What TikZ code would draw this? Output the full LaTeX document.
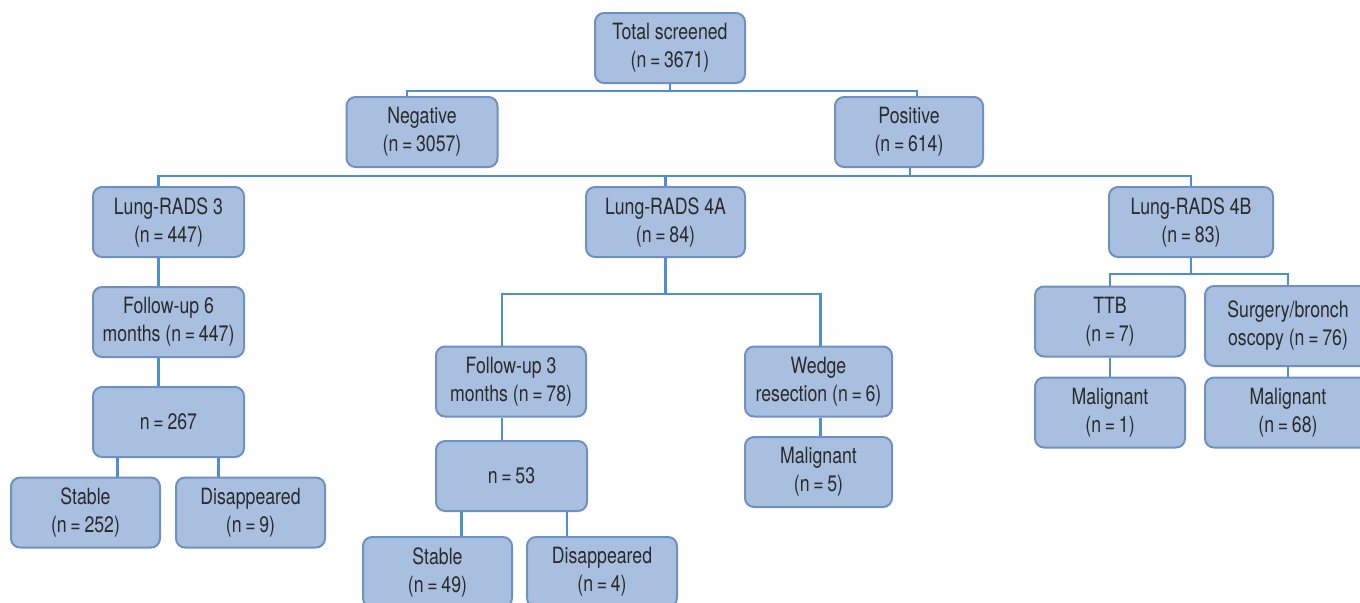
\documentclass[tikz,border=0pt]{standalone}
\usepackage{fontspec}
\setmainfont{TeX Gyre Heros}[FakeStretch=0.79]

\definecolor{boxfill}{HTML}{A9BFE0}
\definecolor{boxline}{HTML}{6E91C1}
\definecolor{linkblue}{HTML}{4D8FD2}
\definecolor{boxtext}{HTML}{2A2A2A}

\tikzset{
  box/.style={draw=boxline, line width=1pt, fill=boxfill, rounded corners=4.5pt,
    align=center, text=boxtext, inner xsep=2pt, inner ysep=1pt,
    minimum height=35pt, font=\fontsize{11.2}{14}\selectfont},
  link/.style={draw=linkblue, line width=1.2pt}
}

\begin{document}
\begin{tikzpicture}[x=0.5pt, y=-0.5pt]

\useasboundingbox (0,0) rectangle (1360,602);

\node[box, minimum width=75pt] (total) at (670,48) {Total screened\\(n\,=\,3671)};
\node[box, minimum width=75.5pt] (neg) at (422,132) {Negative\\(n\,=\,3057)};
\node[box, minimum width=74pt] (pos) at (909,132) {Positive\\(n\,=\,614)};

\node[box, minimum width=75.5pt] (lr3) at (168.5,222) {Lung-RADS 3\\(n\,=\,447)};
\node[box, minimum width=79.5pt] (lr4a) at (665.5,222) {Lung-RADS 4A\\(n\,=\,84)};
\node[box, minimum width=82pt] (lr4b) at (1191,222) {Lung-RADS 4B\\(n\,=\,83)};

\node[box, minimum width=75.5pt] (fu6) at (168.5,322) {Follow-up 6\\months (n\,=\,447)};
\node[box, minimum width=75.5pt] (n267) at (168.5,422) {n\,=\,267};
\node[box, minimum width=74.5pt] (stab1) at (85.5,512.5) {Stable\\(n\,=\,252)};
\node[box, minimum width=74.5pt] (dis1) at (250.5,512.5) {Disappeared\\(n\,=\,9)};

\node[box, minimum width=75pt] (fu3) at (511,381.5) {Follow-up 3\\months (n\,=\,78)};
\node[box, minimum width=75.5pt] (n53) at (511.5,476) {n\,=\,53};
\node[box, minimum width=74.5pt] (stab2) at (437.5,572) {Stable\\(n\,=\,49)};
\node[box, minimum width=75pt] (dis2) at (602,572) {Disappeared\\(n\,=\,4)};

\node[box, minimum width=73.5pt] (wedge) at (818.5,381.5) {Wedge\\resection (n\,=\,6)};
\node[box, minimum width=73.5pt] (mal5) at (818.5,472) {Malignant\\(n\,=\,5)};

\node[box, minimum width=75pt] (ttb) at (1110,321.5) {TTB\\(n\,=\,7)};
\node[box, minimum width=83pt, minimum height=40pt] (surg) at (1288,326) {Surgery/bronch\\oscopy (n\,=\,76)};
\node[box, minimum width=75pt] (mal1) at (1110,412.5) {Malignant\\(n\,=\,1)};
\node[box, minimum width=83pt] (mal68) at (1288,412.5) {Malignant\\(n\,=\,68)};

\draw[link] (total.south) -- ++(0,7) coordinate (split0);
\draw[link] ([xshift=-7.5pt]neg.north) |- (split0) -| ([xshift=4pt]pos.north);

\draw[link] ([xshift=0.5pt]pos.south) -- ++(0,8) coordinate (bus);
\draw[link] ([xshift=-5pt]lr3.north) |- (bus) -| (lr4b.north);
\draw[link] (lr4a.north) -- (lr4a.north |- bus);

\draw[link] ([xshift=-5pt]lr3.south) -- ([xshift=-5pt]fu6.north);
\draw[link] ([xshift=-5pt]fu6.south) -- ([xshift=-5pt]n267.north);
\draw[link] ([xshift=16pt]stab1.north) -- ([xshift=16pt]stab1.north |- n267.south);
\draw[link] ([xshift=-16pt]dis1.north) -- ([xshift=-16pt]dis1.north |- n267.south);

\draw[link] (lr4a.south) -- ++(0,36) coordinate (split4a);
\draw[link] ([xshift=-4.5pt]fu3.north) |- (split4a) -| ([xshift=1pt]wedge.north);
\draw[link] ([xshift=-4.5pt]fu3.south) -- ([xshift=-4.5pt]fu3.south |- n53.north);
\draw[link] ([xshift=12pt]stab2.north) -- ([xshift=12pt]stab2.north |- n53.south);
\draw[link] ([xshift=-17.5pt]dis2.north) -- ([xshift=-17.5pt]dis2.north |- n53.south);
\draw[link] ([xshift=1pt]wedge.south) -- ([xshift=1pt]mal5.north);

\draw[link] (lr4b.south) -- ++(0,16) coordinate (split4b);
\draw[link] (ttb.north) |- (split4b) -| (surg.north);
\draw[link] (ttb.south) -- (mal1.north);
\draw[link] (surg.south) -- (mal68.north);

\end{tikzpicture}
\end{document}
